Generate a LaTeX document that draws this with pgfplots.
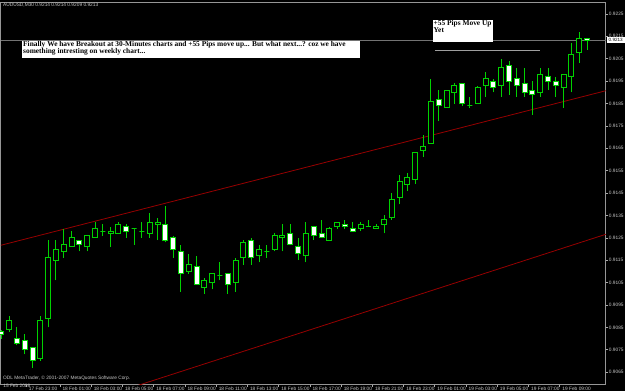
\documentclass[border=0pt]{standalone}
\usepackage{pgfplots}
\pgfplotsset{compat=1.18}
\usepackage{pgfplotstable}
\usepackage{fontspec}
\setmainfont{Liberation Sans}
\newfontfamily\notefont{Liberation Serif}
\definecolor{cg}{RGB}{0,210,0}
\definecolor{tl}{RGB}{150,0,0}
\definecolor{fg}{RGB}{200,200,200}

\pgfplotstableread{
i O H L C
0 0.9083 0.9084 0.9080 0.9082
1 0.9084 0.9090 0.9083 0.9088
2 0.9080 0.9085 0.9077 0.9078
3 0.9079 0.9082 0.9073 0.9075
4 0.9076 0.9076 0.9067 0.9070
5 0.9071 0.9090 0.9070 0.9088
6 0.9089 0.9124 0.9085 0.9116
7 0.9115 0.9124 0.9106 0.9120
8 0.9119 0.9129 0.9116 0.9122
9 0.9121 0.9128 0.9121 0.9125
10 0.9124 0.9124 0.9119 0.9122
11 0.9121 0.9126 0.9119 0.9126
12 0.9125 0.9132 0.9125 0.9129
13 0.9128 0.9131 0.9126 0.9128
14 0.9127 0.9130 0.9121 0.9128
15 0.9127 0.9132 0.9127 0.9131
16 0.9130 0.9131 0.9125 0.9128
17 0.9129 0.9129 0.9122 0.9129
18 0.9128 0.9132 0.9125 0.9128
19 0.9127 0.9136 0.9125 0.9132
20 0.9131 0.9134 0.9124 0.9132
21 0.9131 0.9139 0.9123 0.9124
22 0.9125 0.9126 0.9116 0.9120
23 0.9119 0.9122 0.9101 0.9109
24 0.9110 0.9118 0.9109 0.9113
25 0.9112 0.9117 0.9104 0.9104
26 0.9103 0.9107 0.9100 0.9106
27 0.9105 0.9109 0.9102 0.9109
28 0.9108 0.9114 0.9106 0.9108
29 0.9109 0.9109 0.9100 0.9104
30 0.9105 0.9116 0.9101 0.9115
31 0.9116 0.9124 0.9113 0.9123
32 0.9124 0.9125 0.9113 0.9116
33 0.9117 0.9122 0.9114 0.9120
34 0.9119 0.9122 0.9116 0.9119
35 0.9120 0.9127 0.9119 0.9126
36 0.9125 0.9131 0.9119 0.9126
37 0.9127 0.9131 0.9122 0.9122
38 0.9121 0.9125 0.9115 0.9118
39 0.9117 0.9132 0.9114 0.9127
40 0.9130 0.9130 0.9124 0.9126
41 0.9127 0.9133 0.9125 0.9125
42 0.9124 0.9130 0.9124 0.9129
43 0.9130 0.9132 0.9129 0.9132
44 0.9131 0.9133 0.9129 0.9130
45 0.9129 0.9132 0.9128 0.9128
46 0.9129 0.9132 0.9128 0.9131
47 0.9130 0.9133 0.9130 0.9130
48 0.9129 0.9131 0.9129 0.9130
49 0.9131 0.9135 0.9127 0.9133
50 0.9134 0.9145 0.9133 0.9142
51 0.9143 0.9153 0.9140 0.9150
52 0.9149 0.9154 0.9146 0.9152
53 0.9151 0.9163 0.9149 0.9163
54 0.9164 0.9171 0.9161 0.9166
55 0.9167 0.9196 0.9167 0.9186
56 0.9187 0.9191 0.9177 0.9184
57 0.9183 0.9191 0.9183 0.9191
58 0.9190 0.9194 0.9185 0.9193
59 0.9194 0.9194 0.9184 0.9185
60 0.9184 0.9188 0.9183 0.9184
61 0.9185 0.9193 0.9185 0.9192
62 0.9193 0.9199 0.9188 0.9196
63 0.9195 0.9196 0.9190 0.9192
64 0.9193 0.9205 0.9188 0.9201
65 0.9202 0.9204 0.9189 0.9195
66 0.9196 0.9201 0.9188 0.9193
67 0.9194 0.9201 0.9188 0.9190
68 0.9191 0.9195 0.9180 0.9189
69 0.9190 0.9201 0.9188 0.9198
70 0.9197 0.9201 0.9191 0.9195
71 0.9195 0.9197 0.9188 0.9193
72 0.9192 0.9198 0.9183 0.9198
73 0.9197 0.9212 0.9190 0.9207
74 0.9208 0.9217 0.9203 0.9214
75 0.9214 0.9214 0.9209 0.9213
}\candles

\pgfplotsset{
  candle/.style={
    scatter, only marks, mark=*, mark size=0pt,
    visualization depends on={(\thisrow{H}-\thisrow{O})*22388.9 \as \vH},
    visualization depends on={(\thisrow{L}-\thisrow{O})*22388.9 \as \vL},
    visualization depends on={(\thisrow{C}-\thisrow{O})*22388.9 \as \vC},
    scatter/@pre marker code/.code={%
      \draw[cg, line width=1pt] (0pt,\vL pt) -- (0pt,\vH pt);
      \draw[cg, fill=#1, line width=1pt] (-2.5pt,0pt) rectangle (2.5pt,\vC pt);},
    scatter/@post marker code/.code={},
  }
}

\begin{document}
\begin{tikzpicture}[x=1pt,y=1pt]
\useasboundingbox (0,0) rectangle (625,-391);
\fill[black] (0,0) rectangle (625,-391);
\begin{axis}[
  at={(1,-1)}, anchor=north west,
  scale only axis, width=605pt, height=382pt,
  xmin=-0.064, xmax=77.39, ymin=0.905961, ymax=0.923023,
  axis line style={draw=fg!75!black, line width=0.8pt},
  tick style={draw=fg!85!black, line width=0.6pt},
  tick align=outside, major tick length=2.5pt,
  xtick pos=bottom, ytick pos=right,
  /pgf/number format/assume math mode=true,
  ytick={0.9065,0.9075,0.9085,0.9095,0.9105,0.9115,0.9125,0.9135,0.9145,0.9155,0.9165,0.9175,0.9185,0.9195,0.9205,0.9215,0.9225},
  yticklabels={0.9065,0.9075,0.9085,0.9095,0.9105,0.9115,0.9125,0.9135,0.9145,0.9155,0.9165,0.9175,0.9185,0.9195,0.9205,0.9215,0.9225},
  yticklabel style={font=\fontsize{4.8}{5}\selectfont, text=fg, anchor=west, inner sep=0pt, xshift=0.5pt},
  xtick={3.2,7.5,11.5,15.5,19.5,23.5,27.5,31.5,35.5,39.5,43.5,47.5,51.5,55.5,59.5,63.5,67.5,71.5},
  xticklabels={17 Feb 23:00,18 Feb 01:00,18 Feb 03:00,18 Feb 05:00,18 Feb 07:00,18 Feb 09:00,18 Feb 11:00,18 Feb 13:00,18 Feb 15:00,18 Feb 17:00,18 Feb 19:00,18 Feb 21:00,18 Feb 23:00,19 Feb 01:00,19 Feb 03:00,19 Feb 05:00,19 Feb 07:00,19 Feb 09:00},
  xticklabel style={font=\fontsize{4.8}{5}\selectfont, text=fg, anchor=north west, inner sep=0pt, xshift=2.5pt},
  extra x ticks={0.05},
  extra x tick labels={15 Feb 2008},
  extra x tick style={major tick length=0pt, xticklabel style={xshift=-1pt}},
]
% trend lines and price lines
\addplot[tl, line width=0.8pt] coordinates {(-0.19,0.912156) (77.39,0.919070)};
\addplot[tl, line width=0.8pt] coordinates {(14.79,0.905604) (77.39,0.912658)};
\addplot[white!45!black, line width=0.8pt] coordinates {(-0.064,0.9213) (77.39,0.9213)};
\addplot[white!62!black, line width=0.8pt] coordinates {(55.5,0.920856) (68.94,0.920856)};
% up candles and doji (hollow)
\addplot[candle=black, restrict expr to domain={\thisrow{C}-\thisrow{O}}{-0.00005:1}]
  table[x=i, y=O] {\candles};
% down candles (white)
\addplot[candle=white, restrict expr to domain={\thisrow{O}-\thisrow{C}}{0.00005:1}]
  table[x=i, y=O] {\candles};
\end{axis}
% texts
\node[anchor=west, text=fg, font=\fontsize{4.8}{5}\selectfont, inner sep=0pt] at (3,-5.5) {AUDUSD,M30 0.9214 0.9214 0.9209 0.9213};
\node[anchor=west, text=fg, font=\fontsize{4.8}{5}\selectfont, inner sep=0pt] at (3,-378.3) {ODL MetaTrader, © 2001-2007 MetaQuotes Software Corp.};
\fill[white] (22,-41) rectangle (360,-57.5);
\node[anchor=north west, align=left, inner sep=0pt, font={\notefont\bfseries\fontsize{7.4}{6.9}\selectfont}] at (23,-41.4)
  {Finally We have Breakout at 30-Minutes charts and +55 Pips move up... But what next...? coz we have\\something intresting on weekly chart...};
\fill[white] (432.5,-19.5) rectangle (493,-41.7);
\node[anchor=north west, align=left, inner sep=0pt, font={\notefont\bfseries\fontsize{7.4}{6.9}\selectfont}] at (433.5,-20.2)
  {+55 Pips Move Up\\Yet};
\fill[white] (607,-37.2) rectangle (624.5,-42.6);
\node[text=black, font=\fontsize{4.6}{5}\selectfont, inner sep=0pt] at (615.7,-39.9) {0.9213};
\end{tikzpicture}
\end{document}
